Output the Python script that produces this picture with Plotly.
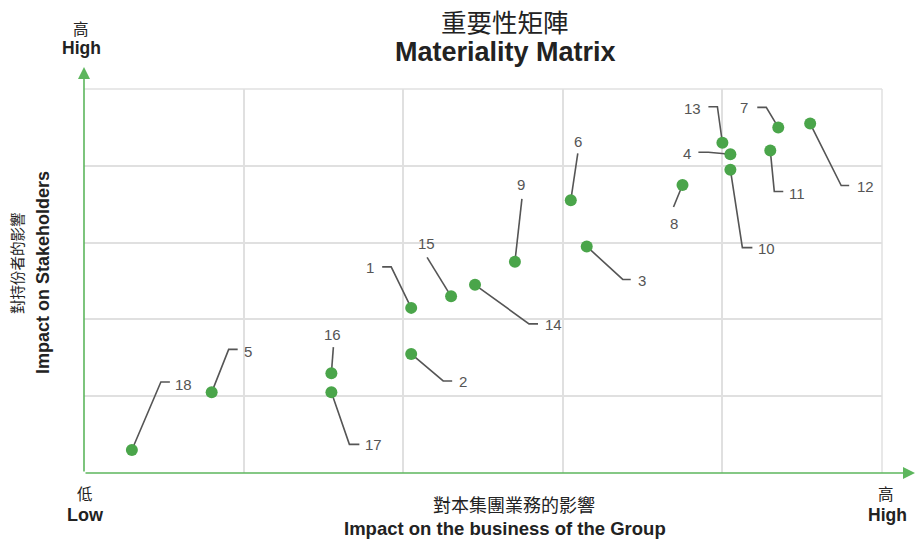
import plotly.graph_objects as go

# Materiality issues: impact on the business (x) vs impact on stakeholders (y), 0-5 scale
issue_ids = ["1", "2", "3", "4", "5", "6", "7", "8", "9",
             "10", "11", "12", "13", "14", "15", "16", "17", "18"]
business_impact = [2.05, 2.05, 3.15, 4.05, 0.80, 3.05, 4.35, 3.75, 2.70,
                   4.05, 4.30, 4.55, 4.00, 2.45, 2.30, 1.55, 1.55, 0.30]
stakeholder_impact = [2.15, 1.55, 2.95, 4.15, 1.05, 3.55, 4.50, 3.75, 2.75,
                      3.95, 4.20, 4.55, 4.30, 2.45, 2.30, 1.30, 1.05, 0.30]

# Label placement, in screen pixels relative to each marker (y grows downward):
# elbow of the leader line, end of its short horizontal tail (or None), label centre
leader_layout = {
    "1":  ((-20, -41), -29, (-41, -40)),
    "2":  ((32, 27), 41, (52, 28)),
    "3":  ((36, 33), 44, (55, 34)),
    "4":  ((-22, -2), -32, (-43, -1)),
    "5":  ((17, -43), 26, (36, -41)),
    "6":  ((7, -47), None, (7, -59)),
    "7":  ((-12, -20), -21, (-34, -20)),
    "8":  ((-9, 22), None, (-9, 38)),
    "9":  ((7, -63), None, (6, -77)),
    "10": ((12, 78), 22, (36, 79)),
    "11": ((4, 41), 13, (27, 43)),
    "12": ((31, 62), 39, (55, 63)),
    "13": ((-5, -36), -14, (-30, -34)),
    "14": ((54, 39), 63, (78, 40)),
    "15": ((-24, -39), None, (-25, -53)),
    "16": ((2, -26), None, (1, -39)),
    "17": ((18, 52), 28, (42, 52)),
    "18": ((29, -68), 38, (52, -65)),
}

W, H = 916, 540
PL, PR, PT, PB = 84, 882, 89, 473
X_MAX, Y_MAX = 5, 5
UX = (PR - PL) / X_MAX
UY = (PB - PT) / Y_MAX

GREEN_DOT = "#4aa54a"
GREEN_AXIS = "#5db65d"
GRID = "#e0e0e0"
LEADER = "#555555"
LABEL = "#555555"
TEXT = "#222222"
LATIN = "Liberation Sans, Arial, sans-serif"
CJK = "Noto Sans CJK TC, sans-serif"


def shift(x, y, dx, dy):
    return x + dx / UX, y - dy / UY


def paper_x(px):
    return (px - PL) / (PR - PL)


def paper_y(py):
    return (PB - py) / (PB - PT)


# leader lines
lx, ly = [], []
label_ann = []
for name, x, y in zip(issue_ids, business_impact, stakeholder_impact):
    (edx, edy), tail, (tdx, tdy) = leader_layout[name]
    ex, ey = shift(x, y, edx, edy)
    lx += [x, ex]
    ly += [y, ey]
    if tail is not None:
        hx, hy = shift(x, y, tail, edy)
        lx.append(hx)
        ly.append(hy)
    lx.append(None)
    ly.append(None)
    tx, ty = shift(x, y, tdx, tdy)
    label_ann.append(dict(
        x=tx, y=ty, xref="x", yref="y", text=name, showarrow=False,
        xanchor="center", yanchor="middle",
        font=dict(family=LATIN, size=15, color=LABEL)))

fig = go.Figure()
fig.add_trace(go.Scatter(
    x=lx, y=ly, mode="lines", line=dict(color=LEADER, width=1.6),
    hoverinfo="skip", showlegend=False, cliponaxis=False))
fig.add_trace(go.Scatter(
    x=business_impact, y=stakeholder_impact, mode="markers", text=issue_ids,
    marker=dict(size=12, color=GREEN_DOT, line=dict(width=0)),
    showlegend=False, cliponaxis=False))


def txt(px, py, s, family, size, color=TEXT, bold=False, angle=0):
    return dict(
        x=paper_x(px), y=paper_y(py), xref="paper", yref="paper",
        text=f"<b>{s}</b>" if bold else s, showarrow=False,
        xanchor="center", yanchor="middle", textangle=angle,
        font=dict(family=family, size=size, color=color))


annotations = label_ann + [
    # axis arrows
    dict(x=paper_x(915), y=0, xref="paper", yref="paper", text="",
         showarrow=True, axref="pixel", ayref="pixel", ax=-(915 - PL), ay=0,
         arrowhead=2, arrowsize=1.5, arrowwidth=1.6, arrowcolor=GREEN_AXIS,
         standoff=0, startstandoff=0),
    dict(x=0, y=paper_y(67), xref="paper", yref="paper", text="",
         showarrow=True, axref="pixel", ayref="pixel", ax=0, ay=(PB - 67),
         arrowhead=2, arrowsize=1.5, arrowwidth=1.6, arrowcolor=GREEN_AXIS,
         standoff=0, startstandoff=0),
    # titles
    txt(505, 20, "重要性矩陣", CJK, 25.5),
    txt(505, 52, "Materiality Matrix", LATIN, 27, bold=True),
    # axis end labels
    txt(81, 28, "高", CJK, 15.5),
    txt(81, 48, "High", LATIN, 17.5, bold=True),
    txt(85, 493, "低", CJK, 15.5),
    txt(85, 515, "Low", LATIN, 18, bold=True),
    txt(886, 493, "高", CJK, 15.5),
    txt(887, 515, "High", LATIN, 17.5, bold=True),
    # axis titles
    txt(514, 504, "對本集團業務的影響", CJK, 18),
    txt(505, 528, "Impact on the business of the Group", LATIN, 18.5, bold=True),
    txt(16, 263, "對持份者的影響", CJK, 14.5, angle=-90),
    txt(43, 273, "Impact on Stakeholders", LATIN, 18, bold=True, angle=-90),
]

# outer grid lines along the top and right edges of the plotting area
edge_grid = [
    dict(type="line", xref="paper", yref="paper", x0=0, x1=1, y0=1, y1=1,
         line=dict(color=GRID, width=1.5), layer="below"),
    dict(type="line", xref="paper", yref="paper", x0=1, x1=1, y0=0, y1=1,
         line=dict(color=GRID, width=1.5), layer="below"),
]

axis_common = dict(showline=False, zeroline=False, showticklabels=False,
                   ticks="", showgrid=True, gridcolor=GRID, gridwidth=1.5,
                   fixedrange=True)
fig.update_layout(
    width=W, height=H,
    margin=dict(l=PL, r=W - PR, t=PT, b=H - PB, pad=0),
    paper_bgcolor="white", plot_bgcolor="white",
    xaxis=dict(range=[0, X_MAX], tickvals=[0, 1, 2, 3, 4, 5], **axis_common),
    yaxis=dict(range=[0, Y_MAX], tickvals=[0, 1, 2, 3, 4, 5], **axis_common),
    annotations=annotations,
    shapes=edge_grid,
    hovermode="closest",
)

fig.write_html("out.html")
